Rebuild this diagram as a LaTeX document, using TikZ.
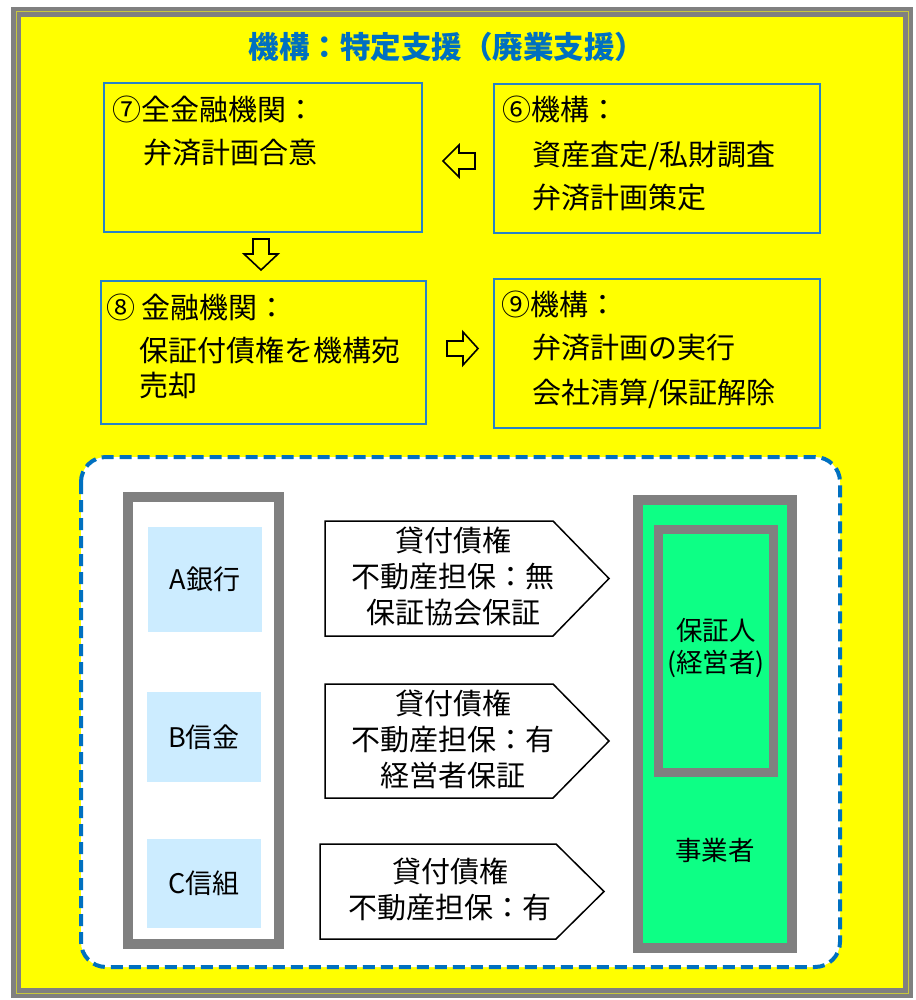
\documentclass[tikz,border=0pt]{standalone}
\usepackage{fontspec}
\setmainfont{Noto Sans CJK JP}
\usetikzlibrary{calc}
\definecolor{bgyellow}{HTML}{FFFF00}
\definecolor{titleblue}{HTML}{0070C0}
\definecolor{boxblue}{RGB}{40,130,200}
\definecolor{framegray}{HTML}{808080}
\definecolor{frameline}{RGB}{200,200,60}
\definecolor{bankblue}{HTML}{CCECFF}
\definecolor{bizgreen}{RGB}{13,255,133}
\begin{document}
\begin{tikzpicture}[x=1pt,y=-1pt,
  every node/.style={inner sep=0pt, outer sep=0pt},
  stepbox/.style={draw=boxblue, line width=1.3pt},
  btext/.style={anchor=west, font=\fontsize{29}{35}\selectfont, text height=24pt, text depth=3.5pt},
  blockarrow/.style={draw=black, line width=1.6pt, fill=bgyellow, line join=miter},
  pent/.style={draw=black, line width=1.5pt, fill=white},
  ptext/.style={align=center, font=\fontsize{29}{36}\selectfont},
  bank/.style={fill=bankblue, minimum width=114pt, font=\fontsize{27}{32}\selectfont},
  gcol/.style={draw=framegray, fill=bizgreen, line width=10pt},
  gtext/.style={align=center, font=\fontsize{26.5}{32}\selectfont}
]
\useasboundingbox (0,0) rectangle (915,1000);
\fill[white] (0,0) rectangle (915,1000);
% outer frame
\path[fill=bgyellow, draw=framegray, line width=4.5pt, double=frameline, double distance=1pt] (16,12) rectangle (908,993);
% title
\node[font=\fontsize{30.5}{36}\selectfont\bfseries, text=titleblue] (title) at (447,47) {機構：特定支援（廃業支援）};
% step boxes
\node[stepbox, minimum width=318pt, minimum height=149pt] (b7) at (263,157.5) {};
\node[stepbox, minimum width=326pt, minimum height=149pt] (b6) at (657,158.5) {};
\node[stepbox, minimum width=325pt, minimum height=143pt] (b8) at (263.5,352.5) {};
\node[stepbox, minimum width=326pt, minimum height=149pt] (b9) at (657,353.5) {};
% step texts
\node[btext] (t7a) at (112,110) {⑦全金融機関：};
\node[btext] (t7b) at (143,153) {弁済計画合意};
\node[btext] (t6a) at (502,110) {⑥機構：};
\node[btext] (t6b) at (532,155) {資産査定/私財調査};
\node[btext] (t6c) at (532,198) {弁済計画策定};
\node[btext] (t8a) at (106,308) {⑧ 金融機関：};
\node[btext] (t8b) at (139,351) {保証付債権を機構宛};
\node[btext] (t8c) at (139,386) {売却};
\node[btext] (t9a) at (501,305) {⑨機構：};
\node[btext] (t9b) at (532,348) {弁済計画の実行};
\node[btext] (t9c) at (532,393) {会社清算/保証解除};
% block arrows
\coordinate (a67) at (459,161);
\coordinate (a78) at (261,254);
\coordinate (a89) at (463,348.5);
\draw[blockarrow, shift={(a67)}] (-16,0) -- (0,-16) -- (0,-8) -- (16,-8) -- (16,8) -- (0,8) -- (0,16) -- cycle;
\draw[blockarrow, shift={(a78)}] (-8,-15) -- (8,-15) -- (8,0) -- (17,0) -- (0,16) -- (-17,0) -- (-8,0) -- cycle;
\draw[blockarrow, shift={(a89)}] (-16,-7.5) -- (0,-7.5) -- (0,-16.5) -- (15,0) -- (0,16.5) -- (0,7.5) -- (-16,7.5) -- cycle;
% dashed region
\draw[draw=titleblue, fill=white, line width=4pt, dash pattern=on 12pt off 6pt, rounded corners=25pt] (81,457) rectangle (840,967);
% bank column
\node[draw=framegray, fill=white, line width=10pt, minimum width=151pt, minimum height=447pt] (banks) at (203.5,720.5) {};
\node[bank, minimum height=105pt] (bA) at (205,579.5) {\raisebox{2pt}{A銀行}};
\node[bank, minimum height=90pt] (bB) at (204,737) {\raisebox{2pt}{B信金}};
\node[bank, minimum height=89pt] (bC) at (204,883.5) {C信組};
% loan pentagons
\draw[pent] (325,521) -- (553,521) -- (609,578.5) -- (553,636) -- (325,636) -- cycle;
\draw[pent] (325,684) -- (553,684) -- (609,741) -- (553,798) -- (325,798) -- cycle;
\draw[pent] (320,844) -- (556,844) -- (604,891.5) -- (556,939) -- (320,939) -- cycle;
\node[ptext] (p1) at (453,576) {貸付債権\\不動産担保：無\\保証協会保証};
\node[ptext] (p2) at (453,739) {貸付債権\\不動産担保：有\\経営者保証};
\node[ptext] (p3) at (450,889) {貸付債権\\不動産担保：有};
% business column
\node[gcol, minimum width=154pt, minimum height=448pt] (biz) at (715,724) {};
\node[gcol, line width=9pt, minimum width=115pt, minimum height=243pt] (guar) at (716,651) {};
\node[gtext] (guart) at (716,648) {保証人\\(経営者)};
\node[gtext] (bizt) at (715,850) {事業者};
\end{tikzpicture}
\end{document}
